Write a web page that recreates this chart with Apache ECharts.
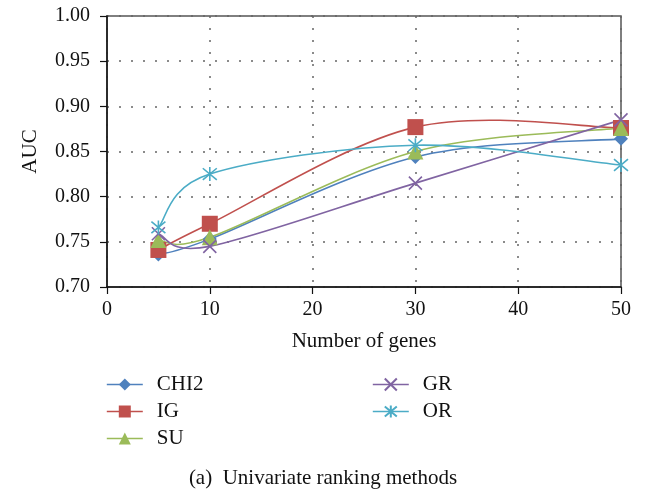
<!DOCTYPE html>
<html><head><meta charset="utf-8">
<script src="https://cdn.jsdelivr.net/npm/echarts@6/dist/echarts.min.js"></script>
<style>html,body{margin:0;padding:0;background:#fff}#c{width:646px;height:490px}</style>
</head><body><div id="c"></div>
<script>
const xValues = [5, 10, 30, 50];
const chi2 = [0.736, 0.753, 0.844, 0.864];
const ig   = [0.741, 0.770, 0.877, 0.876];
const su   = [0.752, 0.755, 0.850, 0.876];
const gr   = [0.759, 0.745, 0.815, 0.885];
const orr  = [0.766, 0.825, 0.857, 0.835];
const seriesNames = ['CHI2', 'IG', 'SU', 'GR', 'OR'];
const colors = ['#4F81BD', '#C0504D', '#9BBB59', '#8064A2', '#4BACC6'];

const FONT = '"Liberation Serif", "DejaVu Serif", serif';
const xPath = 'path://M0,0L10,10M10,0L0,10';
const starPath = 'path://M0,0L10,10M10,0L0,10M5,-1L5,11';

function pts(arr){ return xValues.map((x,i)=>[x, arr[i]]); }

// Smooth (Catmull-Rom style) curve drawn through the axis scales
function curve(name, arr, color){
  return {
    name: name + ' curve', type:'custom', silent:true, z:1,
    data: [[xValues[0], arr[0]]],
    renderItem: function(params, api){
      const p = xValues.map((x,i)=>api.coord([x, arr[i]]));
      const n = p.length;
      let d = 'M' + p[0][0] + ',' + p[0][1];
      for (let i=0;i<n-1;i++){
        const p0 = p[Math.max(i-1,0)], p1 = p[i], p2 = p[i+1], p3 = p[Math.min(i+2,n-1)];
        const c1x = p1[0] + (p2[0]-p0[0])/6, c1y = p1[1] + (p2[1]-p0[1])/6;
        const c2x = p2[0] - (p3[0]-p1[0])/6, c2y = p2[1] - (p3[1]-p1[1])/6;
        d += 'C' + c1x + ',' + c1y + ',' + c2x + ',' + c2y + ',' + p2[0] + ',' + p2[1];
      }
      return {type:'path', shape:{pathData:d}, style:{stroke:color, lineWidth:1.6, fill:'none'}};
    }
  };
}

function mk(name, data, color, symbol, size, stroke){
  return {
    name, type:'line', data: pts(data),
    symbol, symbolSize:size, showAllSymbol:true,
    lineStyle:{color, width:1.6, opacity:0},
    itemStyle: stroke ? {color:color, borderColor:color, borderWidth:1.6} : {color:color, borderWidth:0},
    emphasis:{disabled:true}, z: 3
  };
}

const legendCommon = {orient:'vertical', top:374, padding:0, itemWidth:36, itemHeight:15, itemGap:6,
  lineStyle:{opacity:1, width:1.6},
  textStyle:{fontFamily:FONT, fontSize:21, color:'#111', padding:[0,0,0,9], lineHeight:18}};

const chart = echarts.init(document.getElementById('c'));
chart.setOption({
  animation:false,
  textStyle:{fontFamily:FONT},
  grid:{left:107, right:25, top:16, bottom:203, show:true, borderColor:'#555', borderWidth:1.5, containLabel:false},
  xAxis:{type:'value', min:0, max:50, interval:10,
    name:'Number of genes', nameLocation:'middle', nameGap:44,
    nameTextStyle:{fontFamily:FONT, fontSize:21, color:'#111'},
    axisLine:{show:true, lineStyle:{color:'#111', width:1.5}},
    axisTick:{show:true, inside:false, length:7, lineStyle:{color:'#111', width:1.2}},
    axisLabel:{fontFamily:FONT, fontSize:20, color:'#111', margin:13},
    splitLine:{show:true, lineStyle:{color:'#666', type:[2,10], width:1.5}}
  },
  yAxis:{type:'value', min:0.70, max:1.00, interval:0.05,
    name:'AUC', nameLocation:'middle', nameGap:66, nameRotate:90,
    nameTextStyle:{fontFamily:FONT, fontSize:21, color:'#111'},
    axisLine:{show:true, lineStyle:{color:'#111', width:1.5}},
    axisTick:{show:true, inside:false, length:7, lineStyle:{color:'#111', width:1.2}},
    axisLabel:{fontFamily:FONT, fontSize:20, color:'#111', margin:17, formatter:v=>v.toFixed(2)},
    splitLine:{show:true, lineStyle:{color:'#666', type:[2,10], width:1.5}}
  },
  legend:[
    Object.assign({data:['CHI2','IG','SU'], left:106}, legendCommon),
    Object.assign({data:['GR','OR'], left:372}, legendCommon)
  ],
  graphic:[{type:'text', left:'center', top:468, style:{text:'(a)  Univariate ranking methods', font:'21px '+FONT, fill:'#111'}}],
  series:[
    curve('CHI2', chi2, colors[0]),
    curve('IG', ig, colors[1]),
    curve('SU', su, colors[2]),
    curve('GR', gr, colors[3]),
    curve('OR', orr, colors[4]),
    mk('CHI2', chi2, colors[0], 'diamond', 14, false),
    mk('IG', ig, colors[1], 'rect', 16, false),
    mk('SU', su, colors[2], 'triangle', 16, false),
    mk('GR', gr, colors[3], xPath, 13, true),
    mk('OR', orr, colors[4], starPath, 14, true)
  ]
});
</script></body></html>
